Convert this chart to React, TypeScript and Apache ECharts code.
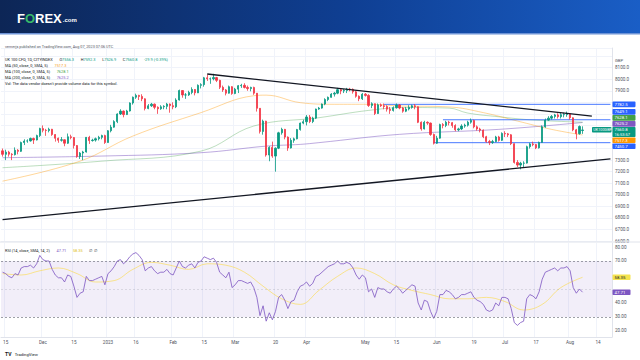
import React, { useEffect, useRef } from "react";
import * as echarts from "echarts";

// ---------- DATA ----------
const FIRST_DAY = "2022-11-14";
const CLOSED_DAYS = ["2022-12-26", "2023-01-02", "2023-04-07"];
const SLOT_COUNT = 197;

// daily candles [open, close, low, high]
const candles: number[][] = [
  [7380, 7350, 7330, 7400], [7350, 7369, 7300, 7390], [7369, 7351, 7330, 7380], [7351, 7347, 7300, 7360], [7347, 7385, 7340, 7410],
  [7385, 7376, 7350, 7395], [7376, 7452, 7370, 7460], [7452, 7465, 7430, 7480], [7465, 7466, 7450, 7480], [7466, 7487, 7460, 7495],
  [7487, 7474, 7440, 7495], [7474, 7512, 7470, 7520], [7512, 7573, 7500, 7580], [7573, 7558, 7540, 7600], [7558, 7556, 7510, 7570],
  [7556, 7567, 7540, 7580], [7567, 7521, 7510, 7570], [7521, 7489, 7460, 7525], [7489, 7472, 7450, 7495], [7472, 7476, 7460, 7500],
  [7476, 7446, 7420, 7480], [7446, 7502, 7440, 7530], [7502, 7495, 7480, 7520], [7495, 7426, 7400, 7500], [7426, 7332, 7320, 7430],
  [7332, 7361, 7310, 7370], [7361, 7370, 7300, 7380], [7370, 7497, 7365, 7500], [7497, 7469, 7440, 7510], [7469, 7473, 7460, 7485],
  [7473, 7485, 7460, 7495], [7485, 7497, 7470, 7510], [7497, 7512, 7480, 7520], [7512, 7452, 7440, 7520], [7452, 7554, 7450, 7560],
  [7554, 7585, 7540, 7605], [7585, 7633, 7580, 7645], [7633, 7699, 7620, 7705], [7699, 7724, 7690, 7740], [7724, 7694, 7670, 7730],
  [7694, 7725, 7690, 7735], [7725, 7794, 7720, 7800], [7794, 7844, 7780, 7850], [7844, 7860, 7830, 7875], [7860, 7851, 7820, 7865],
  [7851, 7830, 7810, 7870], [7830, 7747, 7730, 7835], [7747, 7770, 7740, 7785], [7770, 7784, 7760, 7795], [7784, 7757, 7740, 7790],
  [7757, 7744, 7700, 7765], [7744, 7761, 7735, 7775], [7761, 7765, 7740, 7775], [7765, 7785, 7740, 7795], [7785, 7771, 7710, 7790],
  [7771, 7761, 7740, 7800], [7761, 7820, 7750, 7835], [7820, 7902, 7815, 7910], [7902, 7864, 7840, 7905], [7864, 7864, 7830, 7880],
  [7864, 7885, 7855, 7900], [7885, 7911, 7870, 7930], [7911, 7882, 7860, 7915], [7882, 7947, 7880, 7955], [7947, 7953, 7920, 7965],
  [7953, 8012, 7935, 8020], [8012, 8004, 7985, 8040], [8004, 8004, 7960, 8015], [8004, 8014, 7990, 8047], [8014, 7990, 7975, 8020],
  [7990, 7930, 7915, 7995], [7930, 7907, 7890, 7945], [7907, 7879, 7860, 7915], [7879, 7935, 7875, 7945], [7935, 7876, 7865, 7940],
  [7876, 7914, 7870, 7925], [7914, 7944, 7880, 7950], [7944, 7947, 7925, 7960], [7947, 7929, 7920, 7965], [7929, 7919, 7900, 7945],
  [7919, 7929, 7895, 7935], [7929, 7879, 7865, 7935], [7879, 7748, 7720, 7880], [7748, 7548, 7530, 7750], [7548, 7637, 7520, 7650],
  [7637, 7344, 7330, 7640], [7344, 7410, 7290, 7420], [7410, 7335, 7320, 7460], [7335, 7403, 7200, 7410], [7403, 7536, 7395, 7545],
  [7536, 7566, 7520, 7580], [7566, 7499, 7480, 7570], [7499, 7405, 7380, 7505], [7405, 7471, 7400, 7490], [7471, 7484, 7450, 7495],
  [7484, 7564, 7480, 7570], [7564, 7620, 7555, 7625], [7620, 7632, 7610, 7650], [7632, 7673, 7600, 7690], [7673, 7634, 7620, 7690],
  [7634, 7663, 7620, 7675], [7663, 7742, 7655, 7745], [7742, 7750, 7735, 7760], [7750, 7785, 7745, 7790], [7785, 7824, 7775, 7835],
  [7824, 7843, 7810, 7850], [7843, 7871, 7840, 7880], [7871, 7879, 7850, 7890], [7879, 7909, 7870, 7925], [7909, 7898, 7870, 7915],
  [7898, 7902, 7880, 7915], [7902, 7914, 7880, 7925], [7914, 7912, 7895, 7925], [7912, 7891, 7875, 7920], [7891, 7852, 7840, 7900],
  [7852, 7831, 7810, 7860], [7831, 7870, 7820, 7880], [7870, 7860, 7850, 7880], [7860, 7773, 7760, 7870], [7773, 7788, 7750, 7800],
  [7788, 7703, 7690, 7790], [7703, 7778, 7700, 7790], [7778, 7770, 7760, 7790], [7770, 7764, 7740, 7790], [7764, 7741, 7720, 7775],
  [7741, 7730, 7700, 7760], [7730, 7754, 7720, 7765], [7754, 7777, 7745, 7790], [7777, 7751, 7740, 7785], [7751, 7723, 7710, 7760],
  [7723, 7742, 7715, 7760], [7742, 7756, 7730, 7775], [7756, 7770, 7745, 7780], [7770, 7762, 7740, 7785], [7762, 7627, 7620, 7765],
  [7627, 7570, 7555, 7635], [7570, 7627, 7565, 7640], [7627, 7620, 7605, 7635], [7620, 7522, 7510, 7625], [7522, 7446, 7435, 7530],
  [7446, 7490, 7440, 7510], [7490, 7607, 7485, 7615], [7607, 7600, 7575, 7620], [7600, 7628, 7585, 7640], [7628, 7624, 7600, 7640],
  [7624, 7599, 7580, 7630], [7599, 7562, 7550, 7610], [7562, 7570, 7550, 7580], [7570, 7594, 7560, 7610], [7594, 7602, 7580, 7615],
  [7602, 7628, 7590, 7640], [7628, 7643, 7615, 7660], [7643, 7588, 7575, 7650], [7588, 7569, 7555, 7600], [7569, 7559, 7540, 7580],
  [7559, 7502, 7490, 7565], [7502, 7461, 7450, 7510], [7461, 7453, 7430, 7475], [7453, 7460, 7440, 7475], [7460, 7500, 7455, 7510],
  [7500, 7471, 7460, 7510], [7471, 7531, 7465, 7540], [7531, 7527, 7500, 7550], [7527, 7519, 7500, 7535], [7519, 7442, 7430, 7525],
  [7442, 7280, 7270, 7445], [7280, 7257, 7240, 7300], [7257, 7273, 7220, 7285], [7273, 7274, 7235, 7290], [7274, 7416, 7270, 7425],
  [7416, 7440, 7400, 7450], [7440, 7434, 7420, 7460], [7434, 7406, 7395, 7440], [7406, 7453, 7400, 7460], [7453, 7588, 7450, 7600],
  [7588, 7646, 7580, 7660], [7646, 7663, 7640, 7680], [7663, 7678, 7650, 7690], [7678, 7691, 7660, 7700], [7691, 7676, 7660, 7705],
  [7676, 7693, 7660, 7710], [7693, 7694, 7670, 7710], [7694, 7699, 7675, 7720], [7699, 7666, 7650, 7705], [7666, 7562, 7550, 7670],
  [7562, 7529, 7480, 7570], [7529, 7590.7, 7520, 7600], [7556.3, 7560.8, 7526.9, 7592.3],
];

// RSI(14) daily values
const rsiValues: number[] = [
  62, 61, 59, 58, 61, 60, 65, 66, 66, 67, 65, 68, 74, 71, 70, 70, 64, 60, 58, 58,
  55, 60, 59, 52, 44, 47, 48, 59, 56, 56, 57, 58, 59, 53, 61, 63, 66, 70, 71, 68,
  70, 73, 75, 76, 74, 71, 63, 65, 66, 63, 61, 62, 62, 64, 61, 60, 65, 70, 66, 65,
  67, 68, 65, 69, 70, 73, 72, 71, 72, 69, 62, 60, 58, 62, 51, 53, 56, 56, 55, 54,
  55, 51, 44, 31, 38, 27, 33, 28, 34, 44, 46, 42, 36, 41, 42, 48, 52, 53, 55, 52,
  54, 59, 60, 62, 64, 66, 67, 68, 70, 68, 68, 69, 68, 65, 60, 57, 60, 58, 48, 50,
  44, 51, 50, 50, 48, 47, 50, 52, 50, 47, 49, 51, 53, 52, 40, 35, 42, 41, 34, 29,
  34, 46, 46, 49, 48, 46, 43, 44, 46, 46, 47, 48, 44, 42, 41, 39, 35, 34, 35, 40,
  38, 44, 44, 43, 36, 26, 24, 26, 27, 43, 46, 45, 43, 48, 57, 62, 63, 64, 65, 63,
  65, 65, 66, 63, 51, 47, 50, 47.71,
];

// RSI smoothing line, read at sample bars [barIndex, value]
const rsiMaPoints = [
  [0, 61], [6, 60], [12, 63], [18, 65], [24, 61], [30, 55], [36, 56], [42, 64], [48, 69], [54, 67],
  [60, 64], [66, 68], [72, 67], [78, 62], [84, 52], [90, 43], [96, 39], [102, 49], [108, 59], [114, 65],
  [120, 61], [126, 53], [132, 49], [138, 46], [144, 43], [150, 43], [156, 44], [162, 41], [168, 35],
  [174, 39], [180, 51], [187, 58.35],
];

// moving averages read at sample bars [barIndex, value]
const ma50Points = [
  [0, 7118], [25, 7291], [42, 7508], [64, 7711], [81, 7857], [85, 7862], [96, 7797], [107, 7783],
  [118, 7783], [128, 7769], [144, 7760], [155, 7711], [166, 7638], [177, 7566], [187, 7517.3],
];
const ma100Points = [
  [0, 7234], [32, 7291], [64, 7378], [81, 7595], [102, 7667], [118, 7730], [130, 7755], [144, 7750],
  [150, 7707], [160, 7675], [171, 7647], [187, 7628.1],
];
const ma200Points = [
  [0, 7321], [32, 7335], [64, 7364], [85, 7421], [96, 7436], [102, 7451], [128, 7523], [160, 7566], [187, 7625.2],
];

// drawn lines
const upperTrend = [["2023-02-16", 8045], ["2023-08-10", 7681]];
const lowerTrend = [["2022-11-14", 6785], ["2023-08-18", 7310]];
const levelLines = [
  { value: 7782.5, from: "2023-05-09", to: "2023-08-18" },
  { value: 7649.1, from: "2023-06-05", to: "2023-08-18" },
  { value: 7450.7, from: "2023-05-31", to: "2023-08-18" },
];

const xTickLabels: [string, string][] = [
  ["2022-11-15", "15"], ["2022-12-01", "Dec"], ["2022-12-15", "15"], ["2023-01-03", "2023"],
  ["2023-01-16", "16"], ["2023-02-01", "Feb"], ["2023-02-15", "15"], ["2023-03-01", "Mar"],
  ["2023-03-20", "20"], ["2023-04-03", "Apr"], ["2023-05-01", "May"], ["2023-05-15", "15"],
  ["2023-06-01", "Jun"], ["2023-06-19", "19"], ["2023-07-03", "Jul"], ["2023-07-17", "17"],
  ["2023-08-01", "Aug"], ["2023-08-14", "14"],
];
const hiddenPriceLabels = [7400, 7500, 7600, 7700, 7800, 8200];
const rsiAxisLabels = [20, 30, 40, 70, 80];

const priceTags = [
  { value: 7782.5, kind: "level" },
  { value: 7649.1, kind: "level" },
  { value: 7628.1, kind: "ma100" },
  { value: 7625.2, kind: "ma200" },
  { value: 7560.8, kind: "last", sub: "16:53:57", symbol: "UK100GBP" },
  { value: 7517.3, kind: "ma50" },
  { value: 7450.7, kind: "level" },
];
const rsiTags = [
  { value: 58.35, kind: "rsima" },
  { value: 47.71, kind: "rsi" },
];

// ---------- STYLE ----------
const UP = "#089981";
const DOWN = "#f23645";
const FONT = "Roboto, 'Noto Sans', sans-serif";
const TAG_STYLE: Record<string, { bg: string; fg: string }> = {
  level: { bg: "#2962ff", fg: "#ffffff" },
  ma100: { bg: "#43a047", fg: "#ffffff" },
  ma200: { bg: "#7e57c2", fg: "#ffffff" },
  ma50: { bg: "#ff9800", fg: "#ffffff" },
  last: { bg: "#089981", fg: "#ffffff" },
  rsima: { bg: "#f5e34f", fg: "#131722" },
  rsi: { bg: "#7e57c2", fg: "#ffffff" },
};

function buildDates(): string[] {
  const out: string[] = [];
  const [y, m, d] = FIRST_DAY.split("-").map(Number);
  const cur = new Date(Date.UTC(y, m - 1, d));
  while (out.length < SLOT_COUNT) {
    const wd = cur.getUTCDay();
    const s = cur.toISOString().slice(0, 10);
    if (wd !== 0 && wd !== 6 && !CLOSED_DAYS.includes(s)) out.push(s);
    cur.setUTCDate(cur.getUTCDate() + 1);
  }
  return out;
}

function spread(items: { y: number; h: number }[]) {
  for (let k = 0; k < 400; k++) {
    let moved = false;
    for (let i = 0; i < items.length - 1; i++) {
      const a = items[i];
      const b = items[i + 1];
      const need = (a.h + b.h) / 2 + 0.4;
      const gap = b.y - a.y;
      if (gap < need - 0.01) {
        const dd = (need - gap) / 2;
        a.y -= dd;
        b.y += dd;
        moved = true;
      }
    }
    if (!moved) break;
  }
}

export default function App() {
  const ref = useRef<HTMLDivElement>(null);

  useEffect(() => {
    document.body.style.margin = "0";
    const chart = echarts.init(ref.current!, null, { renderer: "svg" });
    const dates = buildDates();
    const tickMap = new Map(xTickLabels);
    const isTick = (_i: number, v: string) => tickMap.has(v);

    const lineBase = { type: "line", showSymbol: false, symbol: "none", silent: true, animation: false };

    const option: any = {
      animation: false,
      backgroundColor: "#ffffff",
      grid: [
        { left: 1, right: 28, top: 48, height: 193 },
        { left: 1, right: 28, top: 243, height: 94 },
      ],
      xAxis: [
        {
          type: "category", gridIndex: 0, data: dates,
          axisLine: { show: false }, axisTick: { show: false }, axisLabel: { show: false },
          splitLine: { show: true, interval: isTick, lineStyle: { color: "#f0f3fa", width: 1 } },
        },
        {
          type: "category", gridIndex: 1, data: dates,
          axisLine: { show: true, lineStyle: { color: "#e0e3eb", width: 1 } },
          axisTick: { show: false },
          axisLabel: {
            show: true, interval: isTick, formatter: (v: string) => tickMap.get(v) || "",
            fontSize: 4.6, color: "#50535e", margin: 3, fontFamily: FONT,
          },
          splitLine: { show: true, interval: isTick, lineStyle: { color: "#f0f3fa", width: 1 } },
        },
      ],
      yAxis: [
        {
          type: "value", gridIndex: 0, position: "right", min: 6600, max: 8270, interval: 100,
          axisLine: { show: true, lineStyle: { color: "#e0e3eb" } }, axisTick: { show: false },
          axisLabel: {
            fontSize: 4.6, color: "#50535e", margin: 3, fontFamily: FONT,
            formatter: (v: number) => (hiddenPriceLabels.includes(Math.round(v)) || v > 8200 ? "" : v.toFixed(1)),
          },
          splitLine: { show: true, lineStyle: { color: "#f0f3fa", width: 1 } },
        },
        {
          type: "value", gridIndex: 1, position: "right", min: 15.7, max: 82.86,
          axisLine: { show: true, lineStyle: { color: "#e0e3eb" } }, axisTick: { show: false },
          axisLabel: {
            customValues: rsiAxisLabels, fontSize: 4.6, color: "#50535e", margin: 3, fontFamily: FONT,
            formatter: (v: number) => v.toFixed(2),
          },
          splitLine: { show: false },
        },
      ],
      series: [
        {
          ...lineBase, xAxisIndex: 0, yAxisIndex: 0, data: ma200Points, smooth: 0.4,
          lineStyle: { color: "#7e57c2", width: 1, opacity: 0.5 }, z: 2,
        },
        {
          ...lineBase, xAxisIndex: 0, yAxisIndex: 0, data: ma100Points, smooth: 0.4,
          lineStyle: { color: "#43a047", width: 1, opacity: 0.35 }, z: 2,
        },
        {
          ...lineBase, xAxisIndex: 0, yAxisIndex: 0, data: ma50Points, smooth: 0.4,
          lineStyle: { color: "#ff9800", width: 1, opacity: 0.4 }, z: 2,
        },
        ...levelLines.map((l) => ({
          ...lineBase, xAxisIndex: 0, yAxisIndex: 0,
          data: [[l.from, l.value], [l.to, l.value]],
          lineStyle: { color: "#2962ff", width: 1, opacity: 0.85 }, z: 3,
        })),
        {
          type: "candlestick", xAxisIndex: 0, yAxisIndex: 0, data: candles, barWidth: 1.7,
          itemStyle: { color: UP, color0: DOWN, borderColor: UP, borderColor0: DOWN, borderWidth: 0.8 },
          silent: true, z: 4,
        },
        {
          ...lineBase, xAxisIndex: 0, yAxisIndex: 0, data: upperTrend,
          lineStyle: { color: "#131722", width: 1.3 }, z: 5,
        },
        {
          ...lineBase, xAxisIndex: 0, yAxisIndex: 0, data: lowerTrend,
          lineStyle: { color: "#131722", width: 1.3 }, z: 5,
        },
        {
          ...lineBase, xAxisIndex: 1, yAxisIndex: 1, data: rsiMaPoints, smooth: 0.4,
          lineStyle: { color: "#fdd835", width: 1, opacity: 0.55 }, z: 3,
        },
        {
          ...lineBase, xAxisIndex: 1, yAxisIndex: 1, data: rsiValues,
          lineStyle: { color: "#7e57c2", width: 0.9, opacity: 0.9 }, z: 4,
          markArea: {
            silent: true,
            itemStyle: { color: "rgba(126,87,194,0.1)" },
            data: [[{ yAxis: 30 }, { yAxis: 70 }]],
          },
          markLine: {
            silent: true, symbol: ["none", "none"], label: { show: false },
            data: [
              { yAxis: 70, lineStyle: { color: "#787b86", type: [2, 2], width: 0.8, opacity: 0.9 } },
              { yAxis: 50, lineStyle: { color: "#787b86", type: [2, 2], width: 0.6, opacity: 0.35 } },
              { yAxis: 30, lineStyle: { color: "#787b86", type: [2, 2], width: 0.8, opacity: 0.9 } },
            ],
          },
        },
      ],
    };
    chart.setOption(option);

    const g: any[] = [];
    g.push({
      type: "rect", shape: { x: 0, y: 0, width: 640, height: 34 },
      style: {
        fill: new echarts.graphic.LinearGradient(0, 0, 1, 0, [
          { offset: 0, color: "#0d2656" }, { offset: 0.55, color: "#0f3f93" }, { offset: 1, color: "#1a5ec6" },
        ]),
      },
      z: 50,
    });
    g.push({ type: "rect", shape: { x: 0, y: 33, width: 640, height: 1.5 }, style: { fill: "#6d93d6" }, z: 51 });
    g.push({
      type: "text", x: 17, y: 18, z: 52,
      style: {
        text: "{w|F}{g|O}{w|REX}{s|.com}", verticalAlign: "middle",
        rich: {
          w: { fill: "#ffffff", fontSize: 13, fontWeight: "bold", fontFamily: "'Liberation Sans', Arial, sans-serif" },
          g: { fill: "#39b86a", fontSize: 13, fontWeight: "bold", fontFamily: "'Liberation Sans', Arial, sans-serif" },
          s: { fill: "#ffffff", fontSize: 6, fontWeight: "bold", fontFamily: "'Liberation Sans', Arial, sans-serif", padding: [4, 0, 0, 1] },
        },
      },
    });
    g.push({
      type: "text", x: 5, y: 46, z: 52,
      style: { text: "vernerjs published on TradingView.com, Aug 07, 2023 07:06 UTC", fill: "#50535e", fontSize: 3.8, fontFamily: FONT, verticalAlign: "middle" },
    });
    const LF = 3.9;
    const legendRich = {
      k: { fill: "#131722", fontSize: LF, fontFamily: FONT },
      v: { fill: UP, fontSize: LF, fontFamily: FONT },
      o: { fill: "#f59d1e", fontSize: LF, fontFamily: FONT },
      gr: { fill: "#43a047", fontSize: LF, fontFamily: FONT },
      p: { fill: "#7e57c2", fontSize: LF, fontFamily: FONT },
      y: { fill: "#e0c020", fontSize: LF, fontFamily: FONT },
    };
    const legendRows = [
      "{k|UK 100 CFD, 1D, CITYINDEX}  {k|O}{v|7556.3}  {k|H}{v|7592.3}  {k|L}{v|7526.9}  {k|C}{v|7560.8}  {v|-29.9 (-0.39%)}",
      "{k|MA (50, close, 0, SMA, 5)}  {o|7517.3}",
      "{k|MA (100, close, 0, SMA, 5)}  {gr|7628.1}",
      "{k|MA (200, close, 0, SMA, 5)}  {p|7625.2}",
      "{k|Vol: The data vendor doesn't provide volume data for this symbol.}",
    ];
    legendRows.forEach((t, i) => {
      g.push({ type: "text", x: 5, y: 59.5 + i * 6, z: 52, style: { text: t, rich: legendRich, verticalAlign: "middle" } });
    });
    g.push({
      type: "text", x: 5, y: 250, z: 52,
      style: { text: "{k|RSI (14, close, SMA, 14, 2)}  {p|47.71}  {y|58.35}  {k|∅  ∅}", rich: legendRich, verticalAlign: "middle" },
    });
    g.push({ type: "text", x: 615, y: 60, z: 52, style: { text: "GBP", fill: "#50535e", fontSize: 4.2, fontFamily: FONT, verticalAlign: "middle" } });
    g.push({
      type: "text", x: 5, y: 354, z: 52,
      style: {
        text: "{b|TV} {t|TradingView}", verticalAlign: "middle",
        rich: { b: { fill: "#131722", fontSize: 5, fontWeight: "bold", fontFamily: FONT }, t: { fill: "#131722", fontSize: 4.2, fontFamily: FONT } },
      },
    });
    g.push({ type: "line", shape: { x1: 0, y1: 242, x2: 640, y2: 242 }, style: { stroke: "#e0e3eb", lineWidth: 1 }, z: 51 });

    const tagItems = priceTags.map((t) => ({
      ...t, y: chart.convertToPixel({ yAxisIndex: 0 } as any, t.value) as number, h: t.sub ? 10 : 5.6,
    }));
    spread(tagItems);
    tagItems.forEach((t) => {
      const st = TAG_STYLE[t.kind];
      g.push({ type: "rect", shape: { x: 612.5, y: t.y - t.h / 2, width: 23, height: t.h, r: 0.8 }, style: { fill: st.bg }, z: 60 });
      const textY = t.sub ? t.y - 2.3 : t.y;
      g.push({ type: "text", x: 614.5, y: textY, z: 61, style: { text: t.value.toFixed(1), fill: st.fg, fontSize: 4.3, fontFamily: FONT, verticalAlign: "middle" } });
      if (t.sub) {
        g.push({ type: "text", x: 614.5, y: t.y + 2.5, z: 61, style: { text: t.sub, fill: st.fg, fontSize: 4.0, fontFamily: FONT, verticalAlign: "middle" } });
      }
      if (t.symbol) {
        g.push({ type: "rect", shape: { x: 592, y: textY - 2.8, width: 19.5, height: 5.6, r: 0.8 }, style: { fill: st.bg }, z: 60 });
        g.push({ type: "text", x: 593.3, y: textY, z: 61, style: { text: t.symbol, fill: st.fg, fontSize: 3.8, fontFamily: FONT, verticalAlign: "middle" } });
      }
    });

    const rsiItems = rsiTags.map((t) => ({
      ...t, y: chart.convertToPixel({ yAxisIndex: 1 } as any, t.value) as number, h: 5.6,
    }));
    spread(rsiItems);
    rsiItems.forEach((t) => {
      const st = TAG_STYLE[t.kind];
      g.push({ type: "rect", shape: { x: 612.5, y: t.y - t.h / 2, width: 18, height: t.h, r: 0.8 }, style: { fill: st.bg }, z: 60 });
      g.push({ type: "text", x: 614.5, y: t.y, z: 61, style: { text: t.value.toFixed(2), fill: st.fg, fontSize: 4.3, fontFamily: FONT, verticalAlign: "middle" } });
    });

    chart.setOption({ graphic: g });
    return () => chart.dispose();
  }, []);

  return <div ref={ref} style={{ width: 640, height: 360 }} />;
}
